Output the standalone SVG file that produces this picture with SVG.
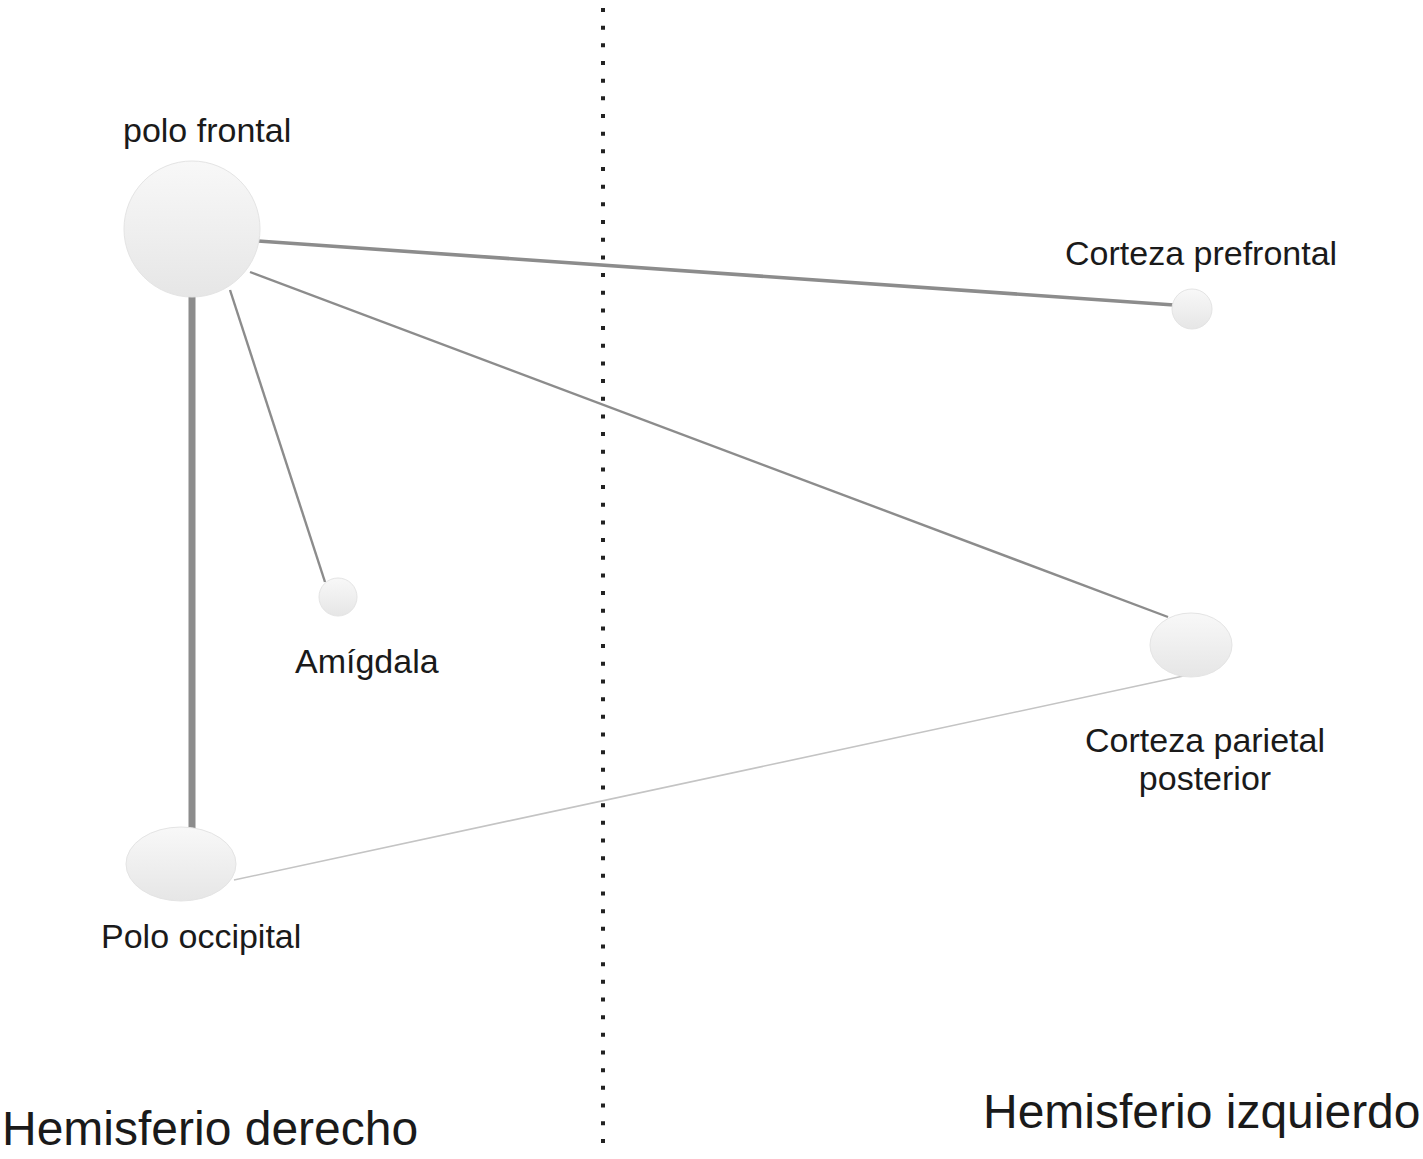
<svg xmlns="http://www.w3.org/2000/svg" width="1423" height="1159" viewBox="0 0 1423 1159">
<defs>
<linearGradient id="g" x1="0" y1="0" x2="0" y2="1">
<stop offset="0" stop-color="#f8f8f8"/>
<stop offset="1" stop-color="#e6e6e6"/>
</linearGradient>
<style>
.n{fill:url(#g);stroke:#e4e4e4;stroke-width:1}
.t{font-family:"Liberation Sans",Arial,sans-serif;font-size:34px;fill:#1a1a1a}
.h{font-family:"Liberation Sans",Arial,sans-serif;font-size:48px;fill:#1a1a1a}
.e{stroke:#8c8c8c;fill:none;stroke-linecap:butt}
.l{stroke:#c4c4c4;fill:none}
</style>
</defs>
<rect width="1423" height="1159" fill="#ffffff"/>
<line x1="603" y1="8" x2="603" y2="1145" stroke="#222" stroke-width="4" stroke-dasharray="4 13.67"/>
<g id="connectors">
<line class="e" x1="192" y1="296" x2="192" y2="828" stroke-width="7"/>
<line class="e" x1="258" y1="241" x2="1174" y2="305" stroke-width="3.6"/>
<line class="e" x1="250" y1="272" x2="1168" y2="617" stroke-width="2.4"/>
<line class="e" x1="230" y1="290" x2="325" y2="582" stroke-width="2.4"/>
<line class="l" x1="234" y1="880" x2="1188" y2="675" stroke-width="1.6"/>
</g>
<g id="polo-frontal">
<circle class="n" cx="192" cy="229" r="68"/>
<text class="t" x="123" y="142">polo frontal</text>
</g>
<g id="corteza-prefrontal">
<circle class="n" cx="1192" cy="309" r="20"/>
<text class="t" x="1065" y="265">Corteza prefrontal</text>
</g>
<g id="amigdala">
<circle class="n" cx="338" cy="597" r="19"/>
<text class="t" x="295" y="673">Amígdala</text>
</g>
<g id="corteza-parietal-posterior">
<ellipse class="n" cx="1191" cy="645" rx="41" ry="32"/>
<text class="t" x="1205" y="752" text-anchor="middle">Corteza parietal</text>
<text class="t" x="1205" y="790" text-anchor="middle">posterior</text>
</g>
<g id="polo-occipital">
<ellipse class="n" cx="181" cy="864" rx="55" ry="37"/>
<text class="t" x="101" y="948">Polo occipital</text>
</g>
<text class="h" x="2" y="1145">Hemisferio derecho</text>
<text class="h" x="983" y="1128">Hemisferio izquierdo</text>
</svg>
